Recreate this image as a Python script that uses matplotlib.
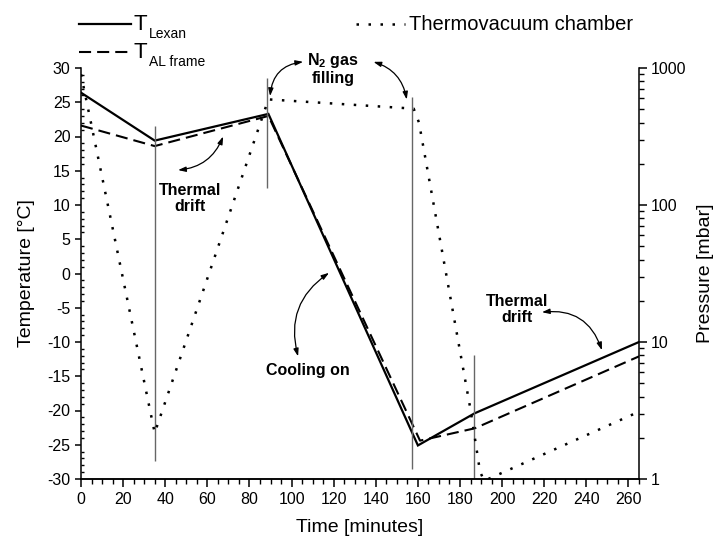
import matplotlib
matplotlib.use("Agg")
import matplotlib.pyplot as plt
from matplotlib.lines import Line2D
from matplotlib.ticker import MultipleLocator, LogLocator, NullFormatter

plt.rcParams['font.family'] = ['Liberation Sans', 'DejaVu Sans']
plt.rcParams['mathtext.fontset'] = 'custom'
plt.rcParams['mathtext.rm'] = 'Liberation Sans'
plt.rcParams['mathtext.bf'] = 'Liberation Sans:bold'
plt.rcParams['axes.unicode_minus'] = False

# temperature of the lexan window and of the aluminium frame
time_lexan = [0, 35, 89, 160, 187, 265]
temp_lexan = [26.4, 19.4, 23.3, -25.1, -20.4, -10.0]
time_frame = [0, 35, 89, 161, 187, 265]
temp_frame = [21.6, 18.6, 23.0, -24.4, -22.6, -12.1]

# chamber pressure (mbar)
time_press = [0, 35, 89, 158, 160.5, 185, 189.5, 191.5, 265]
press = [900, 2.17, 590, 505, 400, 3.2, 1.13, 0.97, 3.1]

# event markers
event_time = [35, 88.5, 157, 186.7]
event_low = [-27.3, 12.5, -28.6, -30]
event_high = [21.6, 28.5, 25.8, -11.9]

# notes: text, text position, arrow start, arrow end, bend
notes = [
    ("Thermal\ndrift", (51.8, 11.0), (46.1, 15.1), (67.5, 20.0), 0.3),
    ("N$_\\mathbf{2}$ gas\nfilling", (119.7, 29.9), (105.5, 30.9), (89.8, 25.9), 0.4),
    (None, None, (138.9, 30.9), (154.7, 25.4), -0.3),
    ("Cooling on", (107.8, -14.1), (103.1, -12.1), (117.8, 0.1), -0.35),
    ("Thermal\ndrift", (207.0, -5.3), (218.9, -5.65), (247.4, -11.2), -0.4),
]

W, H = 720, 542
fig = plt.figure(figsize=(7.2, 5.42), dpi=100)
ax = fig.add_axes([81 / W, 1 - 479 / H, 558 / W, 411 / H])
ax2 = ax.twinx()

solid = dict(color='black', lw=1.6, solid_joinstyle='miter')
dashed = dict(color='black', lw=1.5, linestyle=(0, (5.8, 2.9)))
dotted = dict(color='black', lw=1.8, linestyle=(0, (1, 3.8)))

ax.plot(time_lexan, temp_lexan, **solid)
ax.plot(time_frame, temp_frame, **dashed)
ax.vlines(event_time, event_low, event_high, color='#666666', lw=1.0)

ax2.plot(time_press, press, **dotted)

ax.set_xlim(0, 265)
ax.set_ylim(-30, 30)
ax2.set_yscale('log')
ax2.set_ylim(1, 1000)

ax.xaxis.set_major_locator(MultipleLocator(20))
ax.xaxis.set_minor_locator(MultipleLocator(5))
ax.yaxis.set_major_locator(MultipleLocator(5))
ax.yaxis.set_minor_locator(MultipleLocator(1))
ax2.set_yticks([1, 10, 100, 1000])
ax2.set_yticklabels(['1', '10', '100', '1000'])
ax2.yaxis.set_minor_locator(LogLocator(base=10, subs=range(2, 10)))
ax2.yaxis.set_minor_formatter(NullFormatter())

for a in (ax, ax2):
    a.spines['top'].set_visible(False)
    for s in a.spines.values():
        s.set_linewidth(1.1)
ax.spines['right'].set_visible(False)
ax2.spines['left'].set_visible(False)

ax.tick_params(axis='y', which='major', direction='out', length=4.5, width=1.1, labelsize=11.5, pad=3)
ax.tick_params(axis='y', which='minor', direction='in', length=2.5, width=1.0)
ax.tick_params(axis='x', which='major', direction='out', length=6, width=1.1, labelsize=11.5, pad=3)
ax.tick_params(axis='x', which='minor', direction='out', length=3.5, width=1.0)
ax2.tick_params(axis='y', which='major', direction='out', length=5.5, width=1.1, labelsize=11.5, pad=3)
ax2.tick_params(axis='y', which='minor', direction='out', length=3.5, width=1.0)

ax.set_xlabel('Time [minutes]', fontsize=14, labelpad=9)
ax.set_ylabel('Temperature [°C]', fontsize=14, labelpad=9)
ax2.set_ylabel('Pressure [mbar]', fontsize=14, labelpad=8)

for text, pos, start, end, rad in notes:
    if text is not None:
        ax.text(pos[0], pos[1], text, ha='center', va='center', fontsize=11.5,
                fontweight='bold', linespacing=1.1, clip_on=False)
    ax.annotate('', xy=end, xytext=start, annotation_clip=False,
                arrowprops=dict(arrowstyle='<|-|>,head_length=0.45,head_width=0.15',
                                connectionstyle='arc3,rad=%s' % rad,
                                color='black', lw=0.9, shrinkA=0, shrinkB=0))

# key above the plot, drawn in figure pixels
def key_line(x0, x1, y, style):
    fig.add_artist(Line2D([x0 / W, x1 / W], [1 - y / H, 1 - y / H],
                          transform=fig.transFigure, **style))

def key_text(x, y, s, size):
    fig.text(x / W, 1 - y / H, s, fontsize=size, ha='left', va='baseline')

key_line(79, 131, 24, solid)
key_text(134, 30.5, 'T', 16)
key_text(149, 38.5, 'Lexan', 10)
key_line(79, 131, 51.5, dashed)
key_text(134, 58, 'T', 16)
key_text(149, 66, 'AL frame', 10)
key_line(356, 405, 24, dotted)
key_text(409, 30.5, 'Thermovacuum chamber', 14.5)

fig.savefig('out.png', dpi=100)
